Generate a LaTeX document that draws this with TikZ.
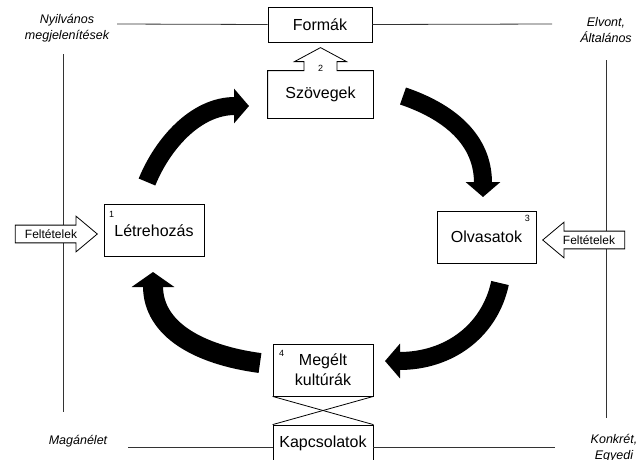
\documentclass[tikz,border=0pt]{standalone}
\usepackage{fontspec}
\setmainfont{Liberation Sans}
\usetikzlibrary{arrows.meta,shapes.arrows}

\begin{document}
\begin{tikzpicture}[x=1pt, y=-1pt,
    box/.style={draw, line width=0.8pt, minimum width=100pt, minimum height=52pt, inner sep=0pt, align=center, font=\fontsize{16}{20}\selectfont},
    numlabel/.style={inner sep=0pt, font=\fontsize{9}{10}\selectfont},
    sidelabel/.style={inner sep=0pt, align=center, font=\itshape\fontsize{12.5}{16}\selectfont},
    condarrow/.style={single arrow, draw, fill=white, line width=0.8pt, minimum height=82pt, inner xsep=2pt, inner ysep=4pt, single arrow head extend=9pt, single arrow tip angle=80, font=\fontsize{12}{14}\selectfont},
    cyclearrow/.style={line width=18pt, -{Triangle[width=34pt,length=15pt]}},
    axis/.style={line width=0.8pt, black!80}]
    \useasboundingbox (0,0) rectangle (637,459);

		% axes
		\coordinate (pubL) at (117,24);
		\coordinate (pubR) at (552,24);
		\coordinate (privL) at (128,447);
		\coordinate (privR) at (555,447);
		\coordinate (leftT) at (63,54);
		\coordinate (leftB) at (63,412);
		\coordinate (rightT) at (606,60);
		\coordinate (rightB) at (606,418);

		\node[sidelabel] (public) at (67,28) {Nyilvános\\megjelenítések};
		\node[sidelabel] (abstract) at (606,30) {Elvont,\\Általános};
		\node[sidelabel] (private) at (78,441) {Magánélet};
		\node[sidelabel] (concrete) at (614,448) {Konkrét,\\Egyedi};

		\draw[axis] (leftT) -- (leftB);
		\draw[axis] (rightT) -- (rightB);

		% boxes
		\node[box, minimum width=104pt, minimum height=35pt] (formak) at (320,24.5) {Formák};
		\node[box, draw=none, minimum width=105pt, minimum height=47pt] (szov) at (320.5,94.5) {Szövegek};
		\node[box] (letre) at (154,230.5) {Létrehozás};
		\node[box, minimum width=99pt] (olvas) at (486.5,237) {Olvasatok};
		\node[box] (megelt) at (323,370) {Megélt\\kultúrák};
		\node[box, minimum height=36pt] (kapcs) at (323,443) {Kapcsolatok};

		\draw[axis] (pubL) -- (formak.west);
		\draw[axis] (formak.east) -- (pubR);
		\draw[axis] (privL) -- (kapcs.west |- privL);
		\draw[axis] (kapcs.east |- privR) -- (privR);

		% Szövegek with its arrow up to Formák
		\draw[line width=0.8pt] (szov.north west) -- ([xshift=-16.5pt]szov.north) -- ++(0,-9) -- ++(-9.5,0)
			-- ++(26,-14) -- ++(26,14) -- ++(-9.5,0) -- ++(0,9) -- (szov.north east)
			-- (szov.south east) -- (szov.south west) -- cycle;

		\node[numlabel] at ([xshift=8pt,yshift=-10pt]letre.north west) {1};
		\node[numlabel] at ([yshift=2pt]szov.north) {2};
		\node[numlabel] at ([xshift=-9pt,yshift=-8pt]olvas.north east) {3};
		\node[numlabel] at ([xshift=9pt,yshift=-10pt]megelt.north west) {4};

		\draw[line width=0.8pt] (megelt.south west) -- (kapcs.north east);
		\draw[line width=0.8pt] (megelt.south east) -- (kapcs.north west);

		% conditions
		\node[condarrow] (condL) at (51,234) {Feltételek};
		\node[condarrow, shape border rotate=180] (condR) at (589,240) {Feltételek};

		% the cycle
		\coordinate (c1s) at (147,182);
		\coordinate (c1e) at (249,106);
		\coordinate (c2s) at (403,96);
		\coordinate (c2e) at (483,197);
		\coordinate (c3s) at (500,283);
		\coordinate (c3e) at (385,361);
		\coordinate (c4s) at (260,363);
		\coordinate (c4e) at (153,272);
		\draw[cyclearrow] (c1s) .. controls (162,145) and (195,106) .. (c1e);
		\draw[cyclearrow] (c2s) .. controls (450,112) and (483,140) .. (c2e);
		\draw[cyclearrow] (c3s) .. controls (490,330) and (450,361) .. (c3e);
		\draw[cyclearrow, line width=20pt, -{Triangle[width=42pt,length=15pt]}] (c4s) .. controls (200,355) and (153,330) .. (c4e);
	\end{tikzpicture}
\end{document}
